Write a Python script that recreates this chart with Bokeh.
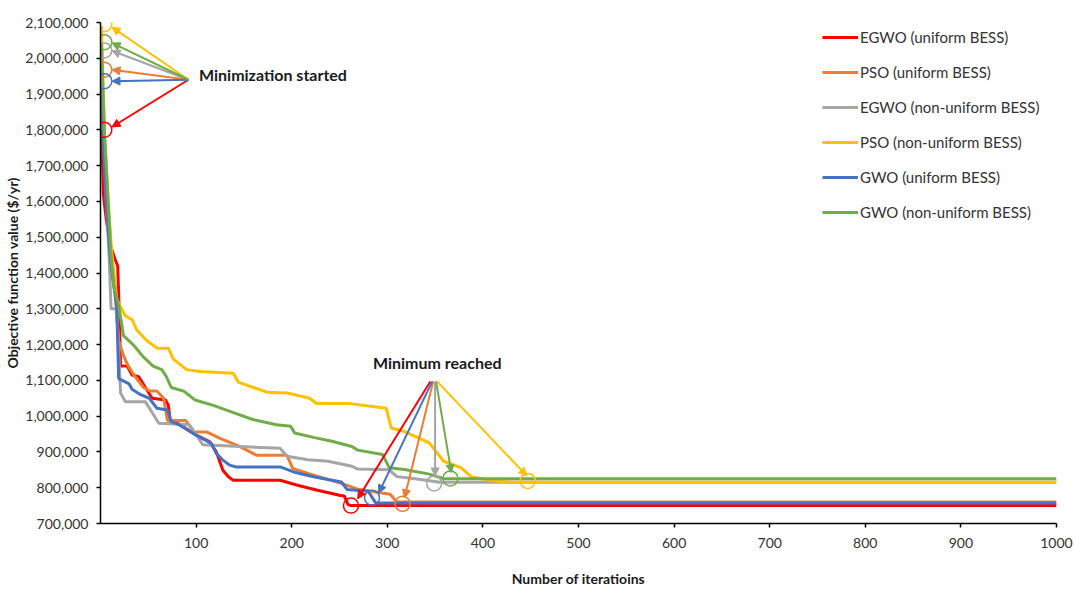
from bokeh.plotting import figure
from bokeh.models import Range1d, FixedTicker, NumeralTickFormatter, Arrow, NormalHead, Label
from bokeh.embed import file_html
from bokeh.resources import INLINE

# ---------------- data ----------------
series_names = ["EGWO (uniform BESS)", "PSO (uniform BESS)", "EGWO (non-uniform BESS)",
                "PSO (non-uniform BESS)", "GWO (uniform BESS)", "GWO (non-uniform BESS)"]
series_colors = ["#FF0000", "#ED7D31", "#A5A5A5", "#FFC000", "#4472C4", "#70AD47"]

egwo_u_x = [1, 2, 3, 6, 10, 15, 18, 19.5, 21, 28, 33, 40, 47, 54, 68, 71, 73, 79, 100, 114, 121, 128, 134,
            139, 188, 206, 227, 250, 255, 259, 262, 1000]
egwo_u_y = [1800000, 1720000, 1620000, 1550000, 1480000, 1440000, 1420000, 1300000, 1140000, 1140000,
            1115000, 1110000, 1080000, 1050000, 1045000, 1030000, 985000, 983000, 947000, 929000, 901000,
            849000, 830000, 821000, 821000, 807000, 793000, 779000, 777000, 753000, 750000, 750000]

pso_u_x = [1, 4, 8, 14, 19, 24, 29, 35, 45, 52, 59, 66, 70, 89, 98, 111, 125, 146, 163, 195, 201, 217, 252,
           269, 303, 310, 1000]
pso_u_y = [1965000, 1750000, 1550000, 1380000, 1210000, 1170000, 1140000, 1115000, 1080000, 1070000,
           1070000, 1050000, 988000, 988000, 956000, 956000, 938000, 915000, 891000, 891000, 854000,
           840000, 812000, 796000, 782000, 760000, 760000]

egwo_n_x = [1, 3, 6, 9, 11, 17, 21, 26, 47, 61, 93, 107, 188, 195, 217, 238, 263, 269, 302, 310, 329, 355,
            1000]
egwo_n_y = [2015000, 1800000, 1600000, 1450000, 1300000, 1300000, 1065000, 1040000, 1040000, 980000,
            976000, 920000, 910000, 888000, 878000, 874000, 860000, 852000, 850000, 831000, 825000, 815000,
            815000]

pso_n_x = [1, 4, 8, 12, 17, 26, 33, 38, 49, 59, 71, 76, 90, 104, 139, 144, 174, 195, 219, 226, 261, 299,
           304, 318, 344, 359, 377, 388, 410, 430, 1000]
pso_n_y = [2090000, 1800000, 1600000, 1450000, 1327000, 1280000, 1270000, 1240000, 1210000, 1190000,
           1190000, 1160000, 1130000, 1125000, 1120000, 1095000, 1067000, 1065000, 1050000, 1035000,
           1035000, 1022000, 967000, 957000, 925000, 874000, 856000, 830000, 820000, 815000, 815000]

gwo_u_x = [1, 3, 6, 10, 12.5, 17, 19, 30, 33, 42, 51, 59, 70, 74, 82, 100, 116, 121, 128, 135, 142, 188,
           202, 224, 252, 258, 280, 288, 1000]
gwo_u_y = [1930000, 1750000, 1600000, 1450000, 1390000, 1310000, 1105000, 1090000, 1075000, 1060000,
           1050000, 1022000, 1017000, 985000, 976000, 947000, 924000, 896000, 877000, 863000, 858000,
           858000, 844000, 830000, 816000, 795000, 790000, 757000, 757000]

gwo_n_x = [1, 4, 8, 11, 14, 19, 24, 34, 45, 55, 64, 69, 74, 87, 99, 118, 139, 160, 184, 199, 203, 224,
           242, 263, 269, 295, 302, 318, 344, 359, 1000]
gwo_n_y = [2040000, 1800000, 1600000, 1450000, 1360000, 1310000, 1225000, 1200000, 1165000, 1140000,
           1130000, 1110000, 1080000, 1070000, 1045000, 1030000, 1010000, 990000, 976000, 972000, 953000,
           940000, 930000, 915000, 905000, 893000, 856000, 851000, 838000, 825000, 825000]

series_x = [egwo_u_x, pso_u_x, egwo_n_x, pso_n_x, gwo_u_x, gwo_n_x]
series_y = [egwo_u_y, pso_u_y, egwo_n_y, pso_n_y, gwo_u_y, gwo_n_y]

# start markers ("Minimization started")
start_x = [4, 4, 4, 4, 4, 4]
start_y = [1800000, 1968000, 2022000, 2095000, 1936000, 2045000]
start_tip_x = [12, 12, 12, 12, 12, 12]
start_tip_y = [1808000, 1968000, 2021000, 2087000, 1936000, 2043000]
start_apex = (92, 1940000)

# minimum markers ("Minimum reached")
min_x = [262, 316, 349, 447, 284, 366]
min_y = [750000, 755000, 812000, 819000, 772000, 826000]
min_tip_x = [269, 318, 350, 446, 291, 367]
min_tip_y = [769000, 772000, 833000, 833000, 785000, 842000]
min_apex_x = [345, 348, 350, 352, 347, 351]
min_apex_y = 1097000

x_ticks = [100, 200, 300, 400, 500, 600, 700, 800, 900, 1000]
y_ticks = [700000, 800000, 900000, 1000000, 1100000, 1200000, 1300000, 1400000, 1500000, 1600000,
           1700000, 1800000, 1900000, 2000000, 2100000]

x_title = "Number of iteratioins"
y_title = "Objective function value ($/yr)"

FONT = "Lato"
TXT = "#333333"

p = figure(width=1075, height=592, output_backend="svg", toolbar_location=None,
           x_range=Range1d(0, 1000), y_range=Range1d(700000, 2100000),
           min_border_left=100, min_border_right=19, min_border_top=22, min_border_bottom=69)
p.outline_line_color = None
p.xgrid.visible = False
p.ygrid.visible = False
p.background_fill_color = "white"

for ax in (p.xaxis[0], p.yaxis[0]):
    ax.axis_line_color = "#000000"
    ax.axis_line_width = 1.5
    ax.major_tick_line_color = "#000000"
    ax.major_tick_line_width = 1.5
    ax.major_tick_out = 4
    ax.major_tick_in = 0
    ax.minor_tick_line_color = None
    ax.major_label_text_font = FONT
    ax.major_label_text_font_size = "14px"
    ax.major_label_text_color = TXT
    ax.axis_label_text_font = FONT
    ax.axis_label_text_font_size = "14px"
    ax.axis_label_text_font_style = "bold"
    ax.axis_label_text_color = "#1a1a1a"

p.xaxis.ticker = FixedTicker(ticks=x_ticks)
p.yaxis.ticker = FixedTicker(ticks=y_ticks)
p.yaxis.formatter = NumeralTickFormatter(format="0,0")
p.xaxis.major_label_standoff = 10
p.yaxis.major_label_standoff = 8
p.xaxis.axis_label = x_title
p.yaxis.axis_label = y_title
p.xaxis.axis_label_standoff = 19
p.yaxis.axis_label_standoff = 1

for name, col, xs, ys in zip(series_names, series_colors, series_x, series_y):
    p.line(xs, ys, line_color=col, line_width=3, legend_label=name)

for i, col in enumerate(series_colors):
    p.scatter([start_x[i]], [start_y[i]], marker="circle", size=15, fill_color=None,
              line_color=col, line_width=1.5)
    p.scatter([min_x[i]], [min_y[i]], marker="circle", size=15, fill_color=None,
              line_color=col, line_width=1.5)
    p.add_layout(Arrow(x_start=start_apex[0], y_start=start_apex[1],
                       x_end=start_tip_x[i], y_end=start_tip_y[i],
                       line_color=col, line_width=2,
                       end=NormalHead(size=8, fill_color=col, line_color=col)))
    p.add_layout(Arrow(x_start=min_apex_x[i], y_start=min_apex_y,
                       x_end=min_tip_x[i], y_end=min_tip_y[i],
                       line_color=col, line_width=2,
                       end=NormalHead(size=8, fill_color=col, line_color=col)))

p.add_layout(Label(x=103, y=1955000, text="Minimization started", text_font=FONT,
                   text_font_size="16px", text_font_style="bold", text_color="#1a1a1a",
                   text_baseline="middle"))
p.add_layout(Label(x=285, y=1151000, text="Minimum reached", text_font=FONT,
                   text_font_size="16px", text_font_style="bold", text_color="#1a1a1a",
                   text_baseline="middle"))

lg = p.legend[0]
lg.location = (722, 301)
lg.border_line_color = None
lg.background_fill_alpha = 0
lg.padding = 0
lg.margin = 0
lg.spacing = 15
lg.glyph_width = 36
lg.glyph_height = 20
lg.label_height = 20
lg.label_standoff = 2
lg.label_text_font = FONT
lg.label_text_font_size = "15px"
lg.label_text_color = TXT

open("out.html", "w").write(file_html(p, INLINE))
